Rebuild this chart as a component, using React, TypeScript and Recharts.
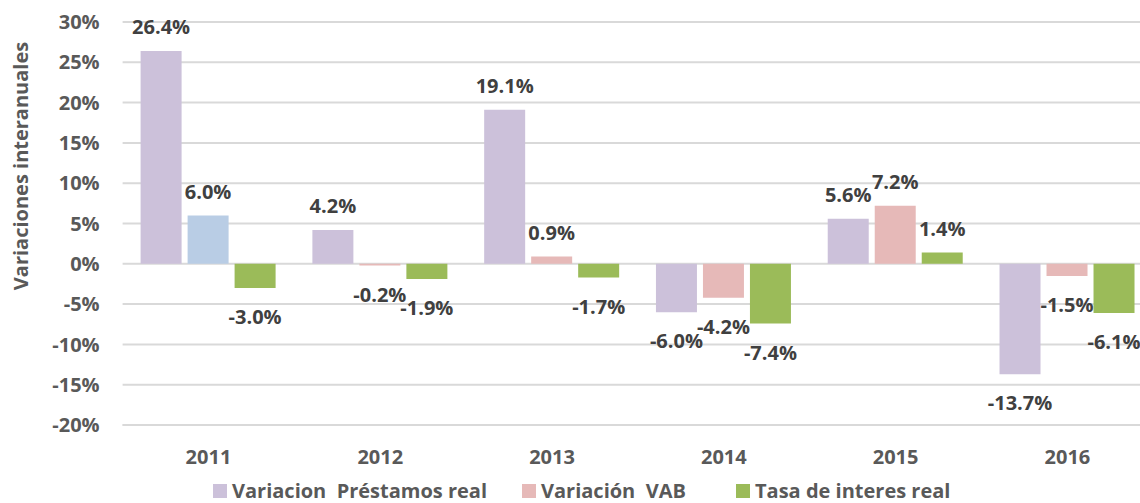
import React from 'react';
import { BarChart, Bar, XAxis, YAxis, CartesianGrid, Legend, LabelList, Cell } from 'recharts';

const years = ['2011', '2012', '2013', '2014', '2015', '2016'];
const prestamos = [26.4, 4.2, 19.1, -6.0, 5.6, -13.7];
const vab = [6.0, -0.2, 0.9, -4.2, 7.2, -1.5];
const tasa = [-3.0, -1.9, -1.7, -7.4, 1.4, -6.1];
const yTicks = [-20, -15, -10, -5, 0, 5, 10, 15, 20, 25, 30];

const seriesNames = ['Variacion  Préstamos real', 'Variación  VAB', 'Tasa de interes real'];
const seriesColors = ['#CCC1DA', '#E6B9B8', '#9BBB59'];
const vabFirstColor = '#B9CDE5';

const data = years.map((y, i) => ({ year: y, prestamos: prestamos[i], vab: vab[i], tasa: tasa[i] }));

const FONT = '"Open Sans", sans-serif';

const renderLabel = (props: any) => {
  const { x, y, width, height, value } = props;
  const top = Math.min(y, y + height);
  const bottom = Math.max(y, y + height);
  const cx = x + width / 2;
  const cy = value >= 0 ? top - 24 : bottom + 29;
  return (
    <text x={cx} y={cy} dy="0.36em" textAnchor="middle" fill="#404040" fontFamily={FONT} fontWeight={700} fontSize={20}>
      {`${Number(value).toFixed(1)}%`}
    </text>
  );
};

const LegendContent = () => {
  const lefts = [213, 522, 736];
  return (
    <div style={{ position: 'relative', width: 1140, height: 22 }}>
      {seriesNames.map((n, i) => (
        <div key={n} style={{ position: 'absolute', left: lefts[i], top: 0, height: 22, display: 'flex', alignItems: 'center', whiteSpace: 'pre' }}>
          <span style={{ display: 'inline-block', width: 14, height: 14, background: seriesColors[i], marginRight: 5 }} />
          <span style={{ fontFamily: FONT, fontWeight: 700, fontSize: 20, lineHeight: '22px', color: '#595959' }}>{n}</span>
        </div>
      ))}
    </div>
  );
};

export default function App() {
  return (
    <div style={{ position: 'absolute', left: 0, top: 0, width: 1140, height: 503, overflow: 'hidden', background: '#fff' }}>
      <BarChart
        width={1160}
        height={503}
        data={data}
        margin={{ top: 22, right: 6.7, left: 0, bottom: 48 }}
        barSize={41}
        barGap={6}
      >
        <CartesianGrid vertical={false} stroke="#D9D9D9" strokeWidth={2} />
        <XAxis
          dataKey="year"
          height={30}
          axisLine={{ stroke: '#D9D9D9', strokeWidth: 2 }}
          tickLine={false}
          tickSize={0}
          tickMargin={25}
          tick={{ fill: '#595959', fontFamily: FONT, fontWeight: 700, fontSize: 20 }}
          interval={0}
        />
        <YAxis
          width={122.6}
          domain={[-20, 30]}
          ticks={yTicks}
          allowDataOverflow
          axisLine={false}
          tickLine={false}
          tickSize={0}
          tickMargin={23}
          tickFormatter={(v: number) => `${v}%`}
          tick={{ fill: '#595959', fontFamily: FONT, fontWeight: 700, fontSize: 20 }}
          label={(p: any) => (
            <text
              x={21}
              y={166}
              transform="rotate(-90 21 166)"
              textAnchor="middle"
              dy="0.36em"
              fill="#595959"
              fontFamily={FONT}
              fontWeight={700}
              fontSize={20}
            >
              Variaciones interanuales
            </text>
          )}
        />
        <Legend
          layout="horizontal"
          verticalAlign="middle"
          align="center"
          wrapperStyle={{ top: 480, left: 0, width: 1140, height: 22 }}
          content={() => <LegendContent />}
        />
        <Bar dataKey="prestamos" name={seriesNames[0]} fill={seriesColors[0]} isAnimationActive={false}>
          <LabelList dataKey="prestamos" content={renderLabel} />
        </Bar>
        <Bar dataKey="vab" name={seriesNames[1]} fill={seriesColors[1]} isAnimationActive={false}>
          {data.map((d, i) => (
            <Cell key={d.year} fill={i === 0 ? vabFirstColor : seriesColors[1]} />
          ))}
          <LabelList dataKey="vab" content={renderLabel} />
        </Bar>
        <Bar dataKey="tasa" name={seriesNames[2]} fill={seriesColors[2]} isAnimationActive={false}>
          <LabelList dataKey="tasa" content={renderLabel} />
        </Bar>
      </BarChart>
    </div>
  );
}
